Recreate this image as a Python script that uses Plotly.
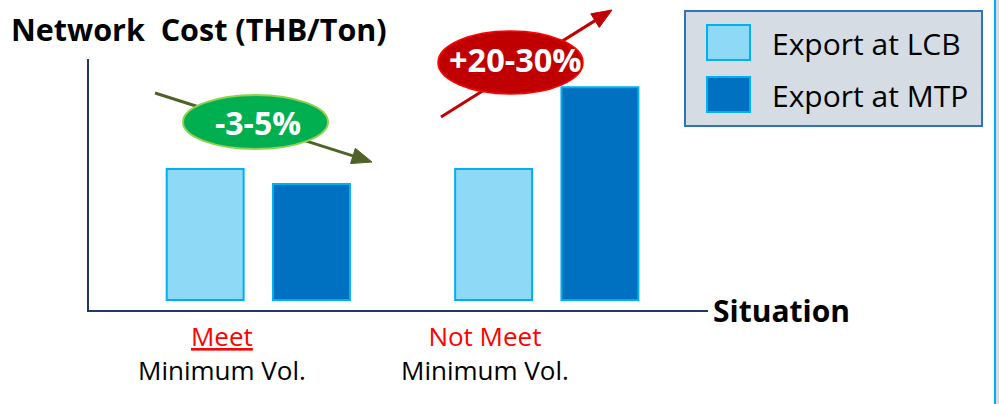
import plotly.graph_objects as go

# ---------------- data ----------------
categories = ["Meet", "Not Meet"]
series_names = ["Export at LCB", "Export at MTP"]
lcb_values = [100, 100]
mtp_values = [88.5, 162.5]
top_labels = ["<u>Meet</u>", "Not Meet"]
sub_labels = ["Minimum Vol.", "Minimum Vol."]
change_labels = ["-3-5%", "+20-30%"]
y_title = "Network  Cost (THB/Ton)"
x_title = "Situation"

# ---------------- styling ----------------
FONT = "Open Sans"
LCB_FILL = "#8ED9F6"
MTP_FILL = "#0070C0"
BAR_LINE = "#00B0F0"
AXIS_COL = "#1F3864"

W, H = 999, 404
L, R, T, B = 89, 708, 59, 310


def px(x):
    return (x - L) / (R - L)


def py(y):
    return (B - y) / (B - T)


fig = go.Figure()
fig.add_trace(go.Bar(x=categories, y=lcb_values, name=series_names[0],
                     marker=dict(color=LCB_FILL, line=dict(color=BAR_LINE, width=2)),
                     showlegend=False, hoverinfo="skip"))
fig.add_trace(go.Bar(x=categories, y=mtp_values, name=series_names[1],
                     marker=dict(color=MTP_FILL, line=dict(color=BAR_LINE, width=2)),
                     showlegend=False, hoverinfo="skip"))

shapes = []
annotations = []


def arrow(x0, y0, x1, y1, color, width=3, head_len=20, head_w=8):
    dx, dy = x1 - x0, y1 - y0
    ln = (dx * dx + dy * dy) ** 0.5
    ux, uy = dx / ln, dy / ln
    bx, by = x1 - ux * head_len, y1 - uy * head_len
    nx, ny = -uy * head_w, ux * head_w
    shapes.append(dict(type="line", xref="paper", yref="paper",
                       x0=px(x0), y0=py(y0), x1=px(bx), y1=py(by),
                       line=dict(color=color, width=width)))
    path = "M {},{} L {},{} L {},{} Z".format(
        px(x1), py(y1), px(bx + nx), py(by + ny), px(bx - nx), py(by - ny))
    shapes.append(dict(type="path", xref="paper", yref="paper", path=path,
                       fillcolor=color, line=dict(color=color, width=1)))


# green arrow + ellipse
arrow(155, 93, 372, 162, "#4F6228")
shapes.append(dict(type="circle", xref="paper", yref="paper",
                   x0=px(183), x1=px(328), y0=py(149), y1=py(95),
                   fillcolor="#00B050", line=dict(color="#92D050", width=2)))
annotations.append(dict(xref="paper", yref="paper", x=px(258), y=py(122),
                        text="<b>" + change_labels[0] + "</b>", showarrow=False,
                        font=dict(family=FONT, size=32, color="white"),
                        xanchor="center", yanchor="middle"))

# red arrow + ellipse
arrow(441, 117, 612, 10, "#C00000")
shapes.append(dict(type="circle", xref="paper", yref="paper",
                   x0=px(438), x1=px(583), y0=py(94), y1=py(31),
                   fillcolor="#C00000", line=dict(color="#FF0000", width=1.5)))
annotations.append(dict(xref="paper", yref="paper", x=px(515), y=py(59),
                        text="<b>" + change_labels[1] + "</b>", showarrow=False,
                        font=dict(family=FONT, size=32.5, color="white"),
                        xanchor="center", yanchor="middle"))

# legend box
shapes.append(dict(type="rect", xref="paper", yref="paper",
                   x0=px(685), x1=px(982), y0=py(126), y1=py(11),
                   fillcolor="#D6DCE4", line=dict(color="#2E75B6", width=2)))
for i, (name, col) in enumerate(zip(series_names, [LCB_FILL, MTP_FILL])):
    top = 25 + 52 * i
    shapes.append(dict(type="rect", xref="paper", yref="paper",
                       x0=px(707), x1=px(750), y0=py(top + 35), y1=py(top),
                       fillcolor=col, line=dict(color=BAR_LINE, width=2)))
    annotations.append(dict(xref="paper", yref="paper", x=px(770), y=py(top + 18),
                            text=name, showarrow=False,
                            font=dict(family=FONT, size=30, color="black"),
                            xanchor="left", yanchor="middle"))

# right edge strip
shapes.append(dict(type="rect", xref="paper", yref="paper",
                   x0=px(995.5), x1=px(1002), y0=py(406), y1=py(-2),
                   fillcolor="#D6DCE4", line=dict(width=0)))
shapes.append(dict(type="line", xref="paper", yref="paper",
                   x0=px(995), x1=px(995), y0=py(406), y1=py(-2),
                   line=dict(color=BAR_LINE, width=2)))

# titles
annotations.append(dict(xref="paper", yref="paper", x=px(9), y=py(29),
                        text="<b>" + y_title + "</b>", showarrow=False,
                        font=dict(family=FONT, size=30.5, color="black"),
                        xanchor="left", yanchor="middle"))
annotations.append(dict(xref="paper", yref="paper", x=px(711), y=py(310),
                        text="<b>" + x_title + "</b>", showarrow=False,
                        font=dict(family=FONT, size=30, color="black"),
                        xanchor="left", yanchor="middle"))

# category labels (two lines in one text block)
label_centers = [222, 485]
for cx, tl, sl in zip(label_centers, top_labels, sub_labels):
    annotations.append(dict(xref="paper", yref="paper", x=px(cx), y=py(353),
                            text="<span style='color:#FF0000'>" + tl + "</span><br>" + sl,
                            showarrow=False, align="center",
                            font=dict(family=FONT, size=26, color="black"),
                            xanchor="center", yanchor="middle"))

fig.update_layout(
    width=W, height=H, autosize=False,
    margin=dict(l=L, r=W - R, t=T, b=H - B, pad=0),
    paper_bgcolor="white", plot_bgcolor="white",
    barmode="group", bargap=0.263, bargroupgap=0.276,
    xaxis=dict(range=[-0.587, 1.559], showticklabels=False, ticks="",
               showgrid=False, zeroline=False, showline=True,
               linecolor=AXIS_COL, linewidth=2, fixedrange=True),
    yaxis=dict(range=[-7.6, 184], showticklabels=False, ticks="",
               showgrid=False, zeroline=False, showline=True,
               linecolor=AXIS_COL, linewidth=2, fixedrange=True),
    shapes=shapes, annotations=annotations,
    font=dict(family=FONT),
)

fig.write_html("out.html", config={"displayModeBar": False})
